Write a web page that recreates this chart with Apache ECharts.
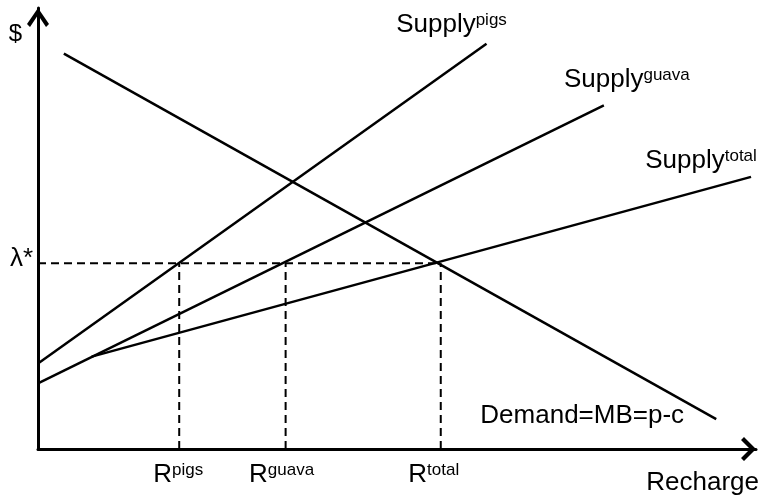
<!DOCTYPE html>
<html>
<head>
<meta charset="utf-8">
<script src="https://cdn.jsdelivr.net/npm/echarts@6/dist/echarts.min.js"></script>
<style>
html,body{margin:0;padding:0;background:#fff;overflow:hidden;width:762px;height:496px;}
#chart{width:762px;height:496px;}
</style>
</head>
<body>
<div id="chart"></div>
<script>
// ---- data (axis units) ----
const xMax = 722;
const yMax = 444;
const supplyPigs = [[0, 86], [451, 408]];
const supplyGuava = [[0, 66], [569, 346]];
const supplyTotal = [[54, 93], [717, 274]];
const demand = [[26, 398], [682, 30]];
const lambdaStar = 187;
const rValues = [142, 249, 405];
const rNames = ['pigs', 'guava', 'total'];
const supplyNames = ['pigs', 'guava', 'total'];
const demandLabel = 'Demand=MB=p-c';
const lambdaLabel = 'λ*';
const xAxisName = 'Recharge';
const yAxisName = '$';

const FONT = 'Liberation Sans, Arial, sans-serif';
const supRich = {
  a: { fontSize: 26, fontFamily: FONT, color: '#000', opacity: 1 },
  b: { fontSize: 17, fontFamily: FONT, color: '#000', opacity: 1, verticalAlign: 'top', lineHeight: 10 }
};
const solid = { color: '#000', width: 2.5 };
const dashed = { color: '#000', width: 2, type: [8, 5] };

function lineSeries(data, style) {
  return { type: 'line', data: data, symbol: 'none', lineStyle: style, silent: true, animation: false, z: 3 };
}
function labelSeries(point, text, offset, extra) {
  return {
    type: 'scatter', data: [point], symbolSize: 0, silent: true, animation: false,
    itemStyle: { color: '#000', opacity: 1 },
    label: Object.assign({
      show: true, position: 'inside', offset: offset, opacity: 1,
      textBorderWidth: 0, textShadowBlur: 0,
      formatter: text, rich: supRich, fontSize: 26, fontFamily: FONT, color: '#000'
    }, extra || {})
  };
}

const supplies = [supplyPigs, supplyGuava, supplyTotal];
const supplyOffsets = [[-35, -19], [23, -26], [-50, -16]];
const rOffsets = [[-1, 0], [-4, 0], [-7, 0]];

const series = [];
supplies.forEach(function (s) { series.push(lineSeries(s, solid)); });
series.push(lineSeries(demand, solid));
series.push(lineSeries([[0, lambdaStar], [rValues[rValues.length - 1], lambdaStar]], dashed));
rValues.forEach(function (r) { series.push(lineSeries([[r, 0], [r, lambdaStar]], dashed)); });

supplies.forEach(function (s, i) {
  series.push(labelSeries(s[s.length - 1], '{a|Supply}{b|' + supplyNames[i] + '}', supplyOffsets[i]));
});
series.push(labelSeries(demand[demand.length - 1], demandLabel, [-134, -3]));
series.push(labelSeries([0, lambdaStar], lambdaLabel, [0, -4], { position: 'left', distance: 5, fontSize: 26 }));
rValues.forEach(function (r, i) {
  series.push(labelSeries([r, 0], '{a|R}{b|' + rNames[i] + '}', rOffsets[i], { position: 'bottom', distance: 13 }));
});

const chart = echarts.init(document.getElementById('chart'), null, { renderer: 'canvas' });
chart.setOption({
  animation: false,
  backgroundColor: '#fff',
  textStyle: { color: '#000', fontFamily: FONT },
  grid: { left: 38, right: 2, top: 8, bottom: 44, containLabel: false },
  xAxis: {
    type: 'value', min: 0, max: xMax,
    name: xAxisName, nameLocation: 'end', nameGap: 3,
    nameTextStyle: { fontSize: 26, fontFamily: FONT, color: '#000', align: 'right', verticalAlign: 'top', padding: [21, 0, 0, 0] },
    axisLine: {
      show: true, lineStyle: { color: '#000', width: 3 },
      symbol: ['none', 'path://M0,12 L12,0 L24,12 L21,15 L12,6 L3,15 Z'],
      symbolSize: [24, 15], symbolOffset: [0, -7.5]
    },
    axisTick: { show: false }, axisLabel: { show: false }, splitLine: { show: false }
  },
  yAxis: {
    type: 'value', min: 0, max: yMax,
    name: yAxisName, nameLocation: 'end', nameGap: -26,
    nameTextStyle: { fontSize: 24, fontFamily: FONT, color: '#000', align: 'right', verticalAlign: 'middle', padding: [0, 16, 0, 0] },
    axisLine: {
      show: true, lineStyle: { color: '#000', width: 3 },
      symbol: ['none', 'path://M0,16 L11,0 L22,16 L19,19 L11,7 L3,19 Z'],
      symbolSize: [22, 19], symbolOffset: [0, -9.5]
    },
    axisTick: { show: false }, axisLabel: { show: false }, splitLine: { show: false }
  },
  series: series
});
</script>
</body>
</html>
